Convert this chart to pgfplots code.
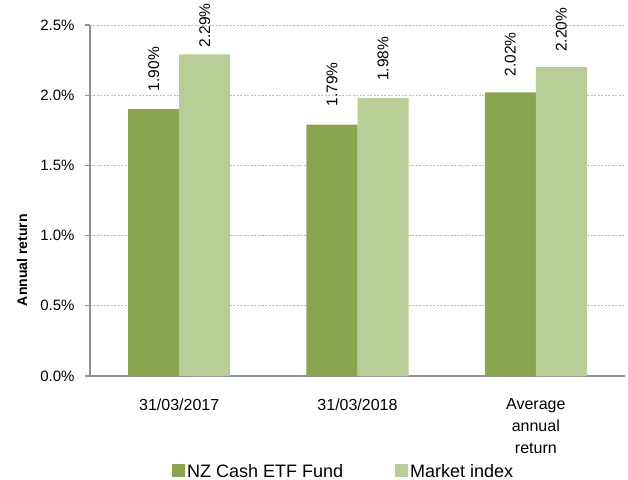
\documentclass[border=0pt]{standalone}
\usepackage{pgfplots}
\usepackage{pgfplotstable}
\pgfplotsset{compat=1.18}
\usepackage{fontspec}
\setmainfont{Liberation Sans}
\definecolor{darkg}{RGB}{138,165,78}
\definecolor{lightg}{RGB}{185,206,150}
\definecolor{axgray}{RGB}{145,145,145}
\definecolor{gridgray}{RGB}{190,190,190}
\pgfplotstableread{
x y off
0 1.90 18
1 1.79 18
2 2.02 16
}\fund
\pgfplotstableread{
x y off
0 2.29 7
1 1.98 17
2 2.20 15
}\market
\begin{document}
\begin{tikzpicture}
\path[use as bounding box] (-90bp,-104bp) rectangle (538bp,376bp);
\begin{axis}[
  at={(0,0)}, anchor=south west,
  scale only axis, width=535bp, height=351bp,
  xmin=-0.5, xmax=2.5, ymin=0, ymax=2.5,
  ybar=0pt, bar width=51bp,
  axis x line*=bottom, axis y line*=left,
  axis line style={axgray, line width=1.3bp, -},
  /pgf/number format/assume math mode=true,
  ytick={0,0.5,1,1.5,2,2.5},
  yticklabel={\pgfmathprintnumber[fixed,fixed zerofill,precision=1]{\tick}\%},
  yticklabel style={font=\fontsize{15bp}{18bp}\selectfont, text=black, xshift=-7bp},
  ytick pos=left,
  tick align=outside,
  major tick length=5bp,
  tick style={axgray, line width=1.3bp},
  ymajorgrids,
  grid style={gridgray, line width=0.8bp, dash pattern=on 2bp off 1.5bp},
  xtick={0,1,2},
  xticklabels={31/03/2017, 31/03/2018, {Average\\annual\\return}},
  xticklabel style={font=\fontsize{16bp}{22bp}\selectfont, align=center, text=black, yshift=-14bp},
  x tick style={draw=none},
  extra x ticks={-0.5,0.5,1.5,2.5},
  extra x tick labels={},
  extra x tick style={tick style={axgray, line width=1.3bp}, major tick length=5bp, grid=none},
  ylabel={\textbf{Annual return}},
  ylabel style={font=\fontsize{14bp}{16bp}\selectfont, at={(axis description cs:-0.127,0.33)}, anchor=center},
  visualization depends on={\thisrow{off} \as \labeloff},
  nodes near coords={\pgfmathprintnumber[fixed,fixed zerofill,precision=2]{\pgfplotspointmeta}\%},
  nodes near coords align={anchor=west},
  every node near coord/.append style={rotate=90, xshift=\labeloff bp, anchor=west, inner sep=0pt, font=\fontsize{15.5bp}{18bp}\selectfont, text=black},
  legend columns=2,
  legend style={at={(axis description cs:0.474,-0.272)}, anchor=center, draw=none, fill=none,
    font=\fontsize{18bp}{20bp}\selectfont, /tikz/every even column/.append style={column sep=50bp}},
]
\addplot[fill=darkg, draw=none, legend image code/.code={\fill[darkg] (0bp,-6bp) rectangle (13bp,7bp);}] table[x=x, y=y] {\fund};
\addplot[fill=lightg, draw=none, legend image code/.code={\fill[lightg] (0bp,-6bp) rectangle (13bp,7bp);}] table[x=x, y=y] {\market};
\legend{NZ Cash ETF Fund, Market index}
\end{axis}
\end{tikzpicture}
\end{document}
